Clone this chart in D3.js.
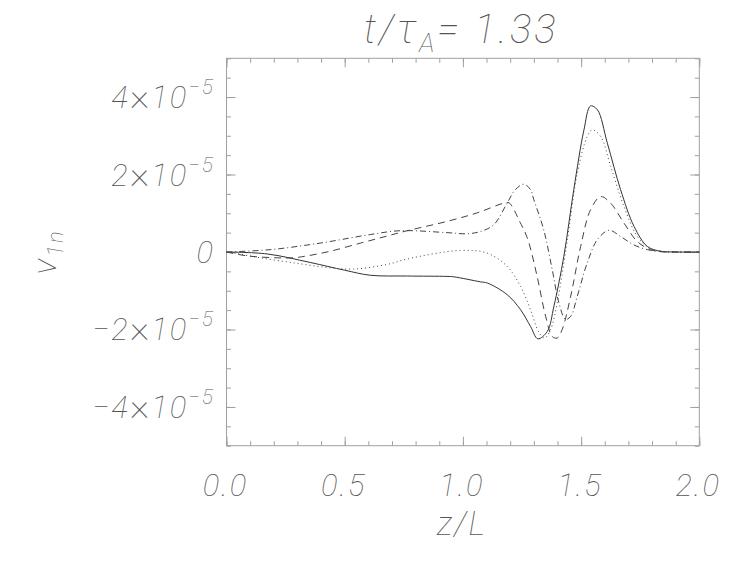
<!DOCTYPE html>
<html><head><meta charset="utf-8">
<script src="https://cdn.jsdelivr.net/npm/d3@7"></script>
<style>
html,body{margin:0;padding:0;background:#fff;}
text{font-family:Roboto,"DejaVu Sans",sans-serif;font-style:italic;font-weight:100;fill:#555;letter-spacing:2px;}
</style></head>
<body><svg id="c" width="737" height="566"></svg>
<script>
// values in units of 1e-5
const UNIT = 1e-5;
const xTicks = [0.0, 0.5, 1.0, 1.5, 2.0];
const xTickLabels = ["0.0", "0.5", "1.0", "1.5", "2.0"];
const yTicks = [-4, -2, 0, 2, 4];
const yTickLabels = ["−4", "−2", "0", "2", "4"];

const solidZ = [0, 0.172, 0.354, 0.5, 0.608, 0.765, 0.933, 0.961, 1.074, 1.103, 1.187, 1.244, 1.286, 1.317, 1.357, 1.385, 1.427, 1.469, 1.512, 1.540, 1.569, 1.611, 1.667, 1.724, 1.781, 1.837, 1.9, 2.0];
const solidV = [0, -0.05, -0.27, -0.47, -0.60, -0.62, -0.63, -0.64, -0.77, -0.80, -1.10, -1.49, -1.92, -2.24, -2.05, -1.40, -0.11, 1.61, 3.15, 3.77, 3.67, 2.81, 1.61, 0.66, 0.14, 0.02, 0, 0];

const dottedZ = [0, 0.044, 0.143, 0.285, 0.426, 0.538, 0.68, 0.765, 0.989, 1.103, 1.187, 1.244, 1.286, 1.321, 1.345, 1.371, 1.399, 1.442, 1.484, 1.526, 1.547, 1.583, 1.625, 1.681, 1.738, 1.794, 1.837, 1.9, 2.0];
const dottedV = [0, -0.04, -0.15, -0.28, -0.40, -0.44, -0.32, -0.18, 0.04, -0.03, -0.37, -0.89, -1.49, -2.07, -2.22, -2.00, -1.31, 0.32, 2.04, 2.98, 3.15, 2.98, 2.21, 1.18, 0.40, 0.08, 0.02, 0, 0];

const dashedZ = [0, 0.087, 0.214, 0.283, 0.341, 0.439, 0.567, 0.666, 0.765, 0.933, 1.06, 1.173, 1.195, 1.215, 1.235, 1.272, 1.314, 1.35, 1.378, 1.399, 1.42, 1.456, 1.498, 1.54, 1.583, 1.625, 1.681, 1.738, 1.794, 1.837, 1.9, 2.0];
const dashedV = [0, -0.10, -0.15, -0.15, -0.10, 0.02, 0.23, 0.39, 0.55, 0.79, 1.01, 1.26, 1.27, 1.10, 0.85, 0.37, -0.63, -1.66, -2.18, -2.22, -2.00, -1.14, 0.14, 1.09, 1.43, 1.26, 0.75, 0.27, 0.06, 0.01, 0, 0];

const dashDotZ = [0, 0.184, 0.396, 0.608, 0.735, 0.933, 1.018, 1.074, 1.13, 1.187, 1.222, 1.258, 1.286, 1.3, 1.342, 1.378, 1.406, 1.434, 1.456, 1.484, 1.526, 1.569, 1.618, 1.667, 1.724, 1.781, 1.837, 1.9, 2.0];
const dashDotV = [0, 0.06, 0.23, 0.45, 0.55, 0.50, 0.47, 0.53, 0.70, 1.26, 1.61, 1.75, 1.61, 1.35, 0.57, -0.46, -1.31, -1.74, -1.66, -1.14, -0.28, 0.32, 0.56, 0.40, 0.18, 0.06, 0.01, 0, 0];

const svg = d3.select("#c");
const L = 226.5, R = 699.3, T = 58.3, B = 445.7;
const x = d3.scaleLinear().domain([0, 2]).range([L, R]);
const y = d3.scaleLinear().domain([-5 * UNIT, 5 * UNIT]).range([B, T]);

const axisColor = "#a0a0a0";
function styleAxis(g) {
  g.select(".domain").remove();
  g.selectAll("line").attr("stroke", axisColor).attr("stroke-width", 1);
  g.selectAll("text").remove();
}
const xMinor = d3.range(0, 2.0001, 0.1);
const yMinor = d3.range(-5, 5.0001, 0.5).map(v => v * UNIT);
const yMajor = yTicks.map(v => v * UNIT);

// minor ticks
svg.append("g").attr("transform", `translate(0,${B})`).call(d3.axisBottom(x).tickValues(xMinor).tickSize(-4.5).tickSizeOuter(0)).call(styleAxis);
svg.append("g").attr("transform", `translate(0,${T})`).call(d3.axisTop(x).tickValues(xMinor).tickSize(-4.5).tickSizeOuter(0)).call(styleAxis);
svg.append("g").attr("transform", `translate(${L},0)`).call(d3.axisLeft(y).tickValues(yMinor).tickSize(-4.5).tickSizeOuter(0)).call(styleAxis);
svg.append("g").attr("transform", `translate(${R},0)`).call(d3.axisRight(y).tickValues(yMinor).tickSize(-4.5).tickSizeOuter(0)).call(styleAxis);
// major ticks
svg.append("g").attr("transform", `translate(0,${B})`).call(d3.axisBottom(x).tickValues(xTicks).tickSize(-9).tickSizeOuter(0)).call(styleAxis);
svg.append("g").attr("transform", `translate(0,${T})`).call(d3.axisTop(x).tickValues(xTicks).tickSize(-9).tickSizeOuter(0)).call(styleAxis);
svg.append("g").attr("transform", `translate(${L},0)`).call(d3.axisLeft(y).tickValues(yMajor).tickSize(-9).tickSizeOuter(0)).call(styleAxis);
svg.append("g").attr("transform", `translate(${R},0)`).call(d3.axisRight(y).tickValues(yMajor).tickSize(-9).tickSizeOuter(0)).call(styleAxis);

svg.append("rect").attr("x", L).attr("y", T).attr("width", R - L).attr("height", B - T)
  .attr("fill", "none").attr("stroke", axisColor).attr("stroke-width", 1);

// x tick labels
svg.append("g").selectAll("text").data(xTicks).join("text")
  .attr("x", d => x(d) - 1).attr("y", 496)
  .attr("text-anchor", "middle").attr("font-size", 31)
  .text((d, i) => xTickLabels[i]);

// y tick labels
const yl = svg.append("g").selectAll("text").data(yTicks).join("text")
  .attr("x", 215).attr("y", d => y(d * UNIT) + 11)
  .attr("text-anchor", "end").attr("font-size", 31);
yl.each(function (d, i) {
  const t = d3.select(this);
  if (d === 0) { t.text("0"); return; }
  const parts = yTickLabels[i];
  t.append("tspan").text(parts);
  t.append("tspan").attr("font-size", 38).attr("font-style", "normal").text("×");
  t.append("tspan").text("10");
  t.append("tspan").attr("dy", -14).attr("font-size", 21).text("−5");
});

// axis titles
svg.append("text").attr("x", 462).attr("y", 535).attr("text-anchor", "middle").attr("font-size", 33).text("z/L");
const ylab = svg.append("text").attr("transform", "translate(56,252) rotate(-90)").attr("text-anchor", "middle").attr("font-size", 34);
ylab.append("tspan").text("v");
ylab.append("tspan").attr("dy", 7).attr("font-size", 22).text("1n");

// title
const title = svg.append("text").attr("x", 461).attr("y", 43).attr("text-anchor", "middle").attr("font-size", 40).style("letter-spacing", "3px");
title.append("tspan").text("t/τ");
title.append("tspan").attr("dy", 9).attr("font-size", 26).text("A");
title.append("tspan").attr("dy", -9).text("= 1.33");

// curves
const line = d3.line().x(d => x(d[0])).y(d => y(d[1] * UNIT)).curve(d3.curveCatmullRom.alpha(0.5));
const series = [
  { z: solidZ, v: solidV, dash: null, color: "#333" },
  { z: dottedZ, v: dottedV, dash: "1,3", color: "#444" },
  { z: dashedZ, v: dashedV, dash: "7,5", color: "#444" },
  { z: dashDotZ, v: dashDotV, dash: "6,3,1,3", color: "#444" }
];
series.forEach(s => {
  svg.append("path").datum(d3.zip(s.z, s.v)).attr("d", line)
    .attr("fill", "none").attr("stroke", s.color).attr("stroke-width", 1)
    .attr("stroke-dasharray", s.dash);
});
</script></body></html>
